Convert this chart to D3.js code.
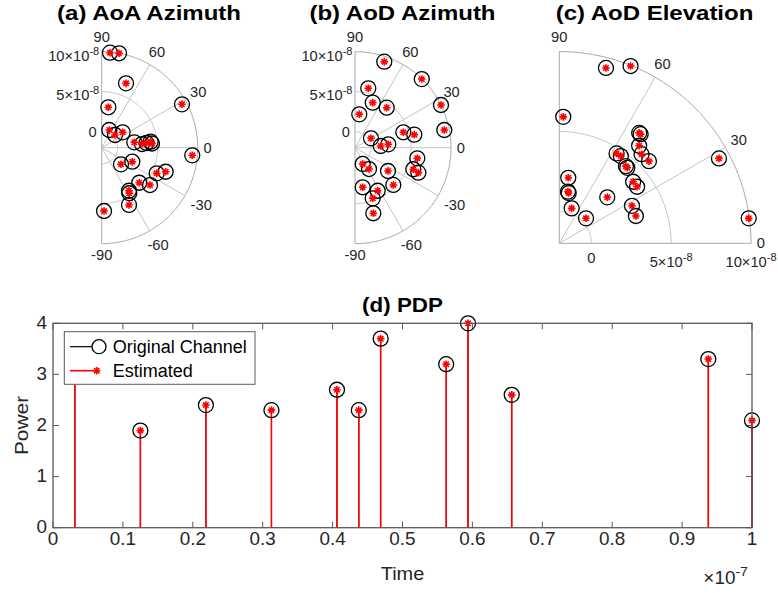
<!DOCTYPE html>
<html><head><meta charset="utf-8">
<script src="https://cdn.jsdelivr.net/npm/d3@7"></script>
<style>
html,body{margin:0;padding:0;background:#fff;}
svg{display:block;font-family:"Liberation Sans",Arial,Helvetica,sans-serif;}
</style></head>
<body>
<svg id="chart" width="778" height="593"></svg>
<script>
// ---------- DATA ----------
// (a) AoA azimuth: angle (deg) and delay (x1e-8 s)
const aoaAzTheta = [85.0, 79.6, 69.3, 80.7, 28.4, 66.8, 43.7, 36.3, 9.4, 5.2, 6.0, 7.0, 4.8, -4.8, -40.7, -24.6, -25.0, -20.6, -43.0, -37.7, -57.6, -58.8, -64.5, -87.9];
const aoaAzDelay = [9.92, 10.0, 6.60, 3.12, 9.41, 0.41, 0.30, 1.25, 2.13, 3.06, 3.63, 4.17, 4.31, 9.36, 1.18, 2.21, 5.58, 6.54, 4.42, 5.63, 4.37, 4.66, 5.93, 5.92];
// (b) AoD azimuth
const aodAzTheta = [71.2, 45.8, 77.4, 68.5, 51.6, 82.7, 26.4, 11.2, 17.7, 12.4, 30.4, 3.8, 5.8, -9.7, -64.7, -56.7, -35.2, -20.3, -21.5, -44.2, -79.0, -62.2, -70.7, -74.4];
const aodAzDelay = [9.36, 9.97, 5.61, 4.05, 4.38, 2.21, 10.0, 9.38, 4.34, 5.59, 0.32, 1.22, 2.18, 5.90, 0.25, 1.19, 3.05, 5.77, 6.51, 4.68, 3.04, 4.08, 4.70, 6.51];
// (c) AoD elevation
const aodElTheta = [75.1, 68.1, 88.2, 54.1, 53.3, 50.7, 57.5, 54.8, 47.3, 42.5, 28.0, 49.2, 48.0, 82.2, 39.8, 36.0, 80.5, 79.4, 43.8, 70.5, 27.3, 19.6, 43.1, 7.5];
const aodElDelay = [9.36, 9.96, 5.92, 6.53, 6.52, 5.89, 4.67, 4.68, 5.59, 5.61, 9.32, 4.38, 4.36, 2.14, 4.02, 4.02, 1.28, 1.20, 2.16, 0.32, 3.12, 3.09, 0.29, 9.96];
// (d) PDP
const pdpTime  = [0.03125, 0.125, 0.21875, 0.3125, 0.40625, 0.4375, 0.46875, 0.5625, 0.59375, 0.65625, 0.9375, 1.0]; // x1e-7 s
const pdpOrig  = [3.4, 1.9, 2.4, 2.3, 2.7, 2.3, 3.7, 3.2, 4.0, 2.6, 3.3, 2.1];
const pdpEst   = [3.4, 1.9, 2.4, 2.3, 2.7, 2.3, 3.7, 3.2, 4.0, 2.6, 3.3, 2.1];
const rTicks = [0, 5, 10];
const xTicks = [0, 0.1, 0.2, 0.3, 0.4, 0.5, 0.6, 0.7, 0.8, 0.9, 1];
const yTicks = [0, 1, 2, 3, 4];

// ---------- HELPERS ----------
const svg = d3.select("#chart");
const TXT = "#262626";
function stretchText(sel, x, y, sx){
  sel.attr("transform", `translate(${x},${y}) scale(${sx||1},1)`);
  return sel;
}
function asteriskPath(s){
  const d = s*0.7071;
  return `M${-s},0L${s},0M0,${-s}L0,${s}M${-d},${-d}L${d},${d}M${-d},${d}L${d},${-d}`;
}
function drawMarkers(g, pts){
  g.selectAll("circle.orig").data(pts).join("circle").attr("class","orig")
    .attr("cx",d=>d[0]).attr("cy",d=>d[1]).attr("r",7.5)
    .attr("fill","none").attr("stroke","#000").attr("stroke-width",1.3);
  g.selectAll("path.est").data(pts).join("path").attr("class","est")
    .attr("transform",d=>`translate(${d[0]},${d[1]})`).attr("d",asteriskPath(3.8))
    .attr("stroke","#ff0000").attr("stroke-width",1.6).attr("fill","none");
}
function expLabel(g, x, y, mant, exp, anchor, size, sx){
  const t = g.append("text").attr("font-size",size).attr("fill",TXT).attr("text-anchor",anchor);
  stretchText(t, x, y, sx);
  if(mant === null){ t.text(exp); return t; }
  t.append("tspan").text(mant + "\u00d710");
  t.append("tspan").attr("dy",-0.45*size).attr("font-size",size*0.75).text(exp);
  return t;
}

// ---------- POLAR PLOTS ----------
const PF = 14, PSX = 1.05;
function polar(opts){
  const {cx, cy, R, t0, t1, spokes, thetaDeg, delay, title, titleX, rLabelMode} = opts;
  const g = svg.append("g");
  const r = d3.scaleLinear().domain([-2, 10]).range([0, R]);
  const toXY = (th, rv) => { const a = th*Math.PI/180, d = r(rv); return [cx + d*Math.cos(a), cy - d*Math.sin(a)]; };
  const arcPath = (rad) => { const pts = d3.range(t0, t1+0.01, 1).map(t=>{const a=t*Math.PI/180; return [cx+rad*Math.cos(a), cy-rad*Math.sin(a)];}); return d3.line()(pts); };
  rTicks.forEach(v => {
    g.append("path").attr("d", arcPath(r(v))).attr("fill","none")
      .attr("stroke", v===10 ? "#a8a8a8" : "#c4c4c4").attr("stroke-width",1);
  });
  spokes.forEach(t => {
    const [x,y] = toXY(t, 10);
    g.append("line").attr("x1",cx).attr("y1",cy).attr("x2",x).attr("y2",y)
      .attr("stroke", (t===t0||t===t1) ? "#a8a8a8" : "#c4c4c4").attr("stroke-width",1);
  });
  const labs = d3.range(t0, t1+1, 30);
  labs.forEach(t => {
    const a = t*Math.PI/180;
    const txt = String(t);
    const w = txt.length*7.8, h = 11;
    const off = 6 + Math.abs(Math.cos(a))*w/2 + Math.abs(Math.sin(a))*h/2;
    const x = cx + (R+off)*Math.cos(a), y = cy - (R+off)*Math.sin(a) - (t===90 ? 3 : 0);
    const tt = g.append("text").attr("font-size",PF).attr("fill",TXT).attr("text-anchor","middle")
      .attr("dominant-baseline","central").text(txt);
    stretchText(tt, x, y, PSX);
  });
  rTicks.forEach(v => {
    if(rLabelMode === "left"){
      const y = cy - r(v);
      if(v===0) expLabel(g, cx-5, y+5, null, "0", "end", PF, PSX);
      else expLabel(g, cx-2.5, y+(v===10 ? 9.5 : 8.5), String(v), "-8", "end", PF, PSX);
    } else {
      const x = cx + r(v);
      if(v===0) expLabel(g, x, cy+20, null, "0", "middle", PF, PSX);
      else expLabel(g, x, cy+23.5, String(v), "-8", "middle", PF, PSX);
    }
  });
  const pts = thetaDeg.map((t,i) => toXY(t, delay[i]));
  drawMarkers(g, pts);
  const tt = g.append("text").attr("font-size",20).attr("font-weight","bold").attr("fill","#000")
    .attr("text-anchor","middle").text(title);
  stretchText(tt, titleX, 20, 1.2);
}

polar({cx:101.7, cy:147.7, R:96, t0:-90, t1:90, spokes:[-90,-60,-30,0,30,60,90],
  thetaDeg:aoaAzTheta, delay:aoaAzDelay, title:"(a) AoA Azimuth", titleX:149, rLabelMode:"left"});
polar({cx:355, cy:147.7, R:96, t0:-90, t1:90, spokes:[-90,-60,-30,0,30,60,90],
  thetaDeg:aodAzTheta, delay:aodAzDelay, title:"(b) AoD Azimuth", titleX:402.5, rLabelMode:"left"});
polar({cx:559.3, cy:243.3, R:191.7, t0:0, t1:90, spokes:[0,30,60,90],
  thetaDeg:aodElTheta, delay:aodElDelay, title:"(c) AoD Elevation", titleX:654.5, rLabelMode:"bottom"});

// ---------- PDP ----------
const L = 53, Rr = 752, T = 323.3, B = 527.7;
const x = d3.scaleLinear().domain([0, 1]).range([L, Rr]);
const y = d3.scaleLinear().domain([0, 4]).range([B, T]);
const gp = svg.append("g");
const AX = "#5a5a5a";
const TF = 17.5, TSX = 1.08;
xTicks.forEach(v => {
  gp.append("line").attr("x1",x(v)).attr("x2",x(v)).attr("y1",B).attr("y2",B-6).attr("stroke",AX);
  gp.append("line").attr("x1",x(v)).attr("x2",x(v)).attr("y1",T).attr("y2",T+6).attr("stroke",AX);
  const t = gp.append("text").attr("font-size",TF).attr("fill",TXT).attr("text-anchor","middle")
    .attr("dominant-baseline","central").text(String(v));
  stretchText(t, x(v), B+11.5, TSX);
});
yTicks.forEach(v => {
  gp.append("line").attr("x1",L).attr("x2",L+6).attr("y1",y(v)).attr("y2",y(v)).attr("stroke",AX);
  gp.append("line").attr("x1",Rr).attr("x2",Rr-6).attr("y1",y(v)).attr("y2",y(v)).attr("stroke",AX);
  const t = gp.append("text").attr("font-size",TF).attr("fill",TXT).attr("text-anchor","end")
    .attr("dominant-baseline","central").text(v);
  stretchText(t, L-6, y(v), TSX);
});
pdpTime.forEach((t,i) => {
  gp.append("line").attr("x1",x(t)).attr("x2",x(t)).attr("y1",y(0)).attr("y2",y(pdpOrig[i])).attr("stroke","#000").attr("stroke-width",1);
  gp.append("line").attr("x1",x(t)).attr("x2",x(t)).attr("y1",y(0)).attr("y2",y(pdpEst[i])).attr("stroke","#ff0000").attr("stroke-width",1.6);
});
drawMarkers(gp, pdpTime.map((t,i)=>[x(t), y(pdpOrig[i])]));
gp.append("rect").attr("x",L).attr("y",T).attr("width",Rr-L).attr("height",B-T)
  .attr("fill","none").attr("stroke",AX).attr("stroke-width",1.3);
// legend
const lg = gp.append("g");
lg.append("rect").attr("x",64.3).attr("y",331.7).attr("width",190.7).attr("height",52.6)
  .attr("fill","#fff").attr("stroke",AX).attr("stroke-width",1);
lg.append("line").attr("x1",70).attr("x2",92).attr("y1",346.7).attr("y2",346.7).attr("stroke","#000").attr("stroke-width",1.2);
lg.append("circle").attr("cx",99).attr("cy",346.7).attr("r",7).attr("fill","none").attr("stroke","#000").attr("stroke-width",1.3);
lg.append("line").attr("x1",70).attr("x2",96.7).attr("y1",370.7).attr("y2",370.7).attr("stroke","#ff0000").attr("stroke-width",1.6);
lg.append("path").attr("transform","translate(96.7,370.7)").attr("d",asteriskPath(3.8)).attr("stroke","#ff0000").attr("stroke-width",1.6);
[["Original Channel",346.7],["Estimated",370.7]].forEach(([s,yy]) => {
  const t = lg.append("text").attr("font-size",18).attr("fill","#000").attr("dominant-baseline","central").text(s);
  stretchText(t, 112.7, yy, 1.0);
});
const tt = gp.append("text").attr("font-size",20).attr("font-weight","bold").attr("fill","#000").attr("text-anchor","middle").text("(d) PDP");
stretchText(tt, (L+Rr)/2, 311.5, 1.12);
const xl = gp.append("text").attr("font-size",19).attr("fill",TXT).attr("text-anchor","middle").attr("dominant-baseline","central").text("Time");
stretchText(xl, (L+Rr)/2, 573, 1.05);
gp.append("text").attr("font-size",19).attr("fill",TXT).attr("text-anchor","middle").attr("dominant-baseline","central")
  .attr("transform",`translate(21.7,${(T+B)/2}) rotate(-90) scale(1.1,1)`).text("Power");
expLabel(gp, 748, 584, "", "-7", "end", 18, 1.05);
</script>
</body></html>
